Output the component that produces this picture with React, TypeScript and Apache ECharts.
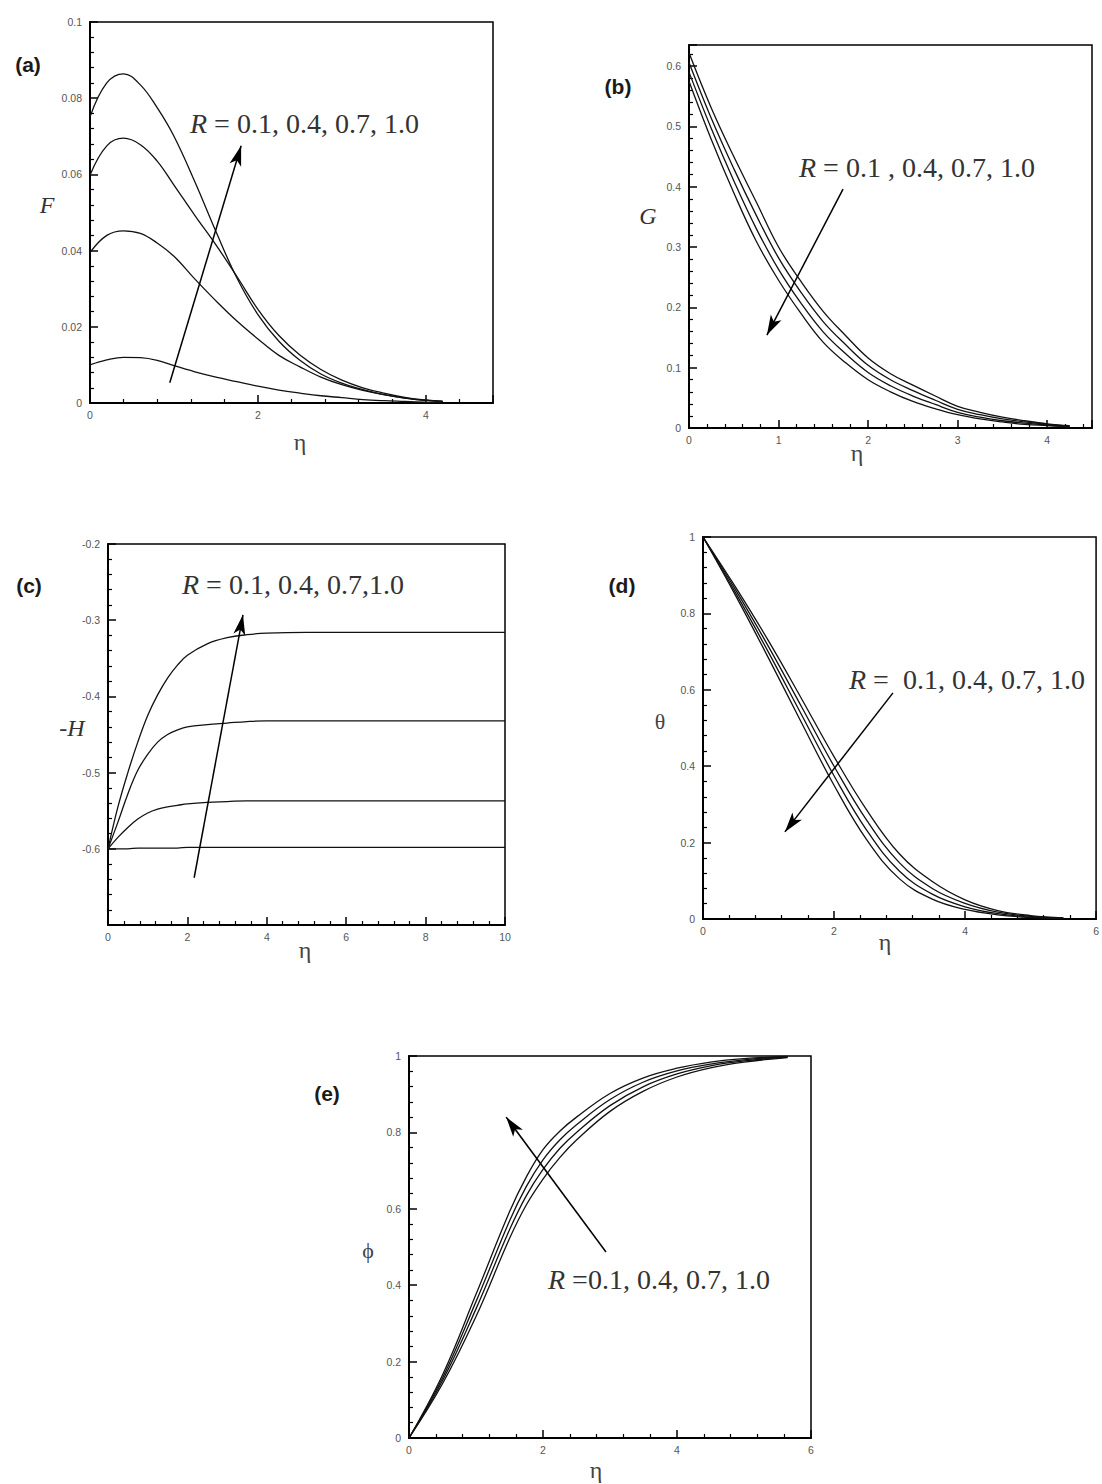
import React, { useEffect, useRef } from "react";
import * as echarts from "echarts";

// ---------- data ----------
const etaA = [0, 0.2, 0.4, 0.6, 0.8, 1.0, 1.25, 1.5, 1.75, 2.0, 2.25, 2.5, 2.75, 3.0, 3.25, 3.5, 3.75, 4.0, 4.2];
const F_R01 = [0.0100, 0.0113, 0.0120, 0.0119, 0.0112, 0.0098, 0.0082, 0.0068, 0.0056, 0.0044, 0.0034, 0.0026, 0.0019, 0.0014, 0.0009, 0.0006, 0.0004, 0.0002, 0.0001];
const F_R04 = [0.0395, 0.0440, 0.0452, 0.0445, 0.0420, 0.0385, 0.0325, 0.0268, 0.0215, 0.0168, 0.0125, 0.0095, 0.0068, 0.0048, 0.0033, 0.0022, 0.0013, 0.0007, 0.0004];
const F_R07 = [0.0598, 0.0675, 0.0695, 0.0678, 0.0635, 0.0572, 0.0492, 0.0415, 0.0332, 0.0246, 0.0177, 0.0126, 0.0088, 0.0060, 0.0040, 0.0026, 0.0015, 0.0008, 0.0004];
const F_R10 = [0.0751, 0.0840, 0.0864, 0.0835, 0.0775, 0.0700, 0.0580, 0.0450, 0.0328, 0.0232, 0.0162, 0.0112, 0.0076, 0.0052, 0.0035, 0.0022, 0.0013, 0.0007, 0.0004];

const etaB = [0, 0.25, 0.5, 0.75, 1.0, 1.25, 1.5, 1.75, 2.0, 2.25, 2.5, 2.75, 3.0, 3.25, 3.5, 3.75, 4.0, 4.25];
const G_R01 = [0.622, 0.530, 0.450, 0.375, 0.300, 0.243, 0.193, 0.153, 0.116, 0.090, 0.071, 0.053, 0.036, 0.026, 0.018, 0.012, 0.007, 0.004];
const G_R04 = [0.606, 0.513, 0.430, 0.353, 0.282, 0.225, 0.176, 0.138, 0.104, 0.080, 0.062, 0.046, 0.031, 0.022, 0.015, 0.010, 0.006, 0.003];
const G_R07 = [0.590, 0.496, 0.410, 0.331, 0.263, 0.207, 0.159, 0.123, 0.092, 0.070, 0.053, 0.039, 0.026, 0.018, 0.012, 0.008, 0.005, 0.0025];
const G_R10 = [0.575, 0.478, 0.390, 0.310, 0.245, 0.190, 0.142, 0.108, 0.080, 0.060, 0.044, 0.032, 0.022, 0.015, 0.010, 0.006, 0.004, 0.002];

const etaC = [0, 0.25, 0.5, 0.75, 1.0, 1.25, 1.5, 1.75, 2.0, 2.5, 3.0, 3.5, 4.0, 5, 6, 7, 8, 9, 10];
const H_R01 = [-0.600, -0.600, -0.600, -0.599, -0.599, -0.599, -0.599, -0.599, -0.598, -0.598, -0.598, -0.598, -0.598, -0.598, -0.598, -0.598, -0.598, -0.598, -0.598];
const H_R04 = [-0.600, -0.585, -0.572, -0.561, -0.553, -0.548, -0.545, -0.543, -0.541, -0.539, -0.538, -0.537, -0.537, -0.537, -0.537, -0.537, -0.537, -0.537, -0.537];
const H_R07 = [-0.600, -0.565, -0.528, -0.497, -0.476, -0.460, -0.450, -0.444, -0.440, -0.437, -0.435, -0.433, -0.432, -0.432, -0.432, -0.432, -0.432, -0.432, -0.432];
const H_R10 = [-0.600, -0.545, -0.500, -0.460, -0.425, -0.398, -0.376, -0.359, -0.346, -0.331, -0.323, -0.319, -0.317, -0.316, -0.316, -0.316, -0.316, -0.316, -0.316];

const etaD = [0, 0.5, 1.0, 1.5, 2.0, 2.5, 3.0, 3.5, 4.0, 4.5, 5.0, 5.5];
const T_R01 = [1.0, 0.868, 0.728, 0.578, 0.425, 0.285, 0.170, 0.098, 0.050, 0.022, 0.009, 0.003];
const T_R04 = [1.0, 0.861, 0.713, 0.557, 0.400, 0.258, 0.147, 0.080, 0.041, 0.018, 0.007, 0.002];
const T_R07 = [1.0, 0.853, 0.698, 0.536, 0.375, 0.232, 0.125, 0.065, 0.032, 0.014, 0.005, 0.002];
const T_R10 = [1.0, 0.846, 0.683, 0.515, 0.350, 0.207, 0.105, 0.052, 0.025, 0.011, 0.004, 0.001];

const etaE = [0, 0.5, 1.0, 1.5, 1.75, 2.0, 2.25, 2.5, 3.0, 3.5, 4.0, 4.5, 5.0, 5.65];
const P_R01 = [0, 0.142, 0.318, 0.522, 0.610, 0.678, 0.734, 0.780, 0.855, 0.908, 0.945, 0.969, 0.984, 0.996];
const P_R04 = [0, 0.150, 0.338, 0.545, 0.634, 0.703, 0.758, 0.800, 0.870, 0.920, 0.953, 0.974, 0.987, 0.997];
const P_R07 = [0, 0.157, 0.357, 0.568, 0.658, 0.728, 0.780, 0.820, 0.886, 0.932, 0.961, 0.979, 0.990, 0.998];
const P_R10 = [0, 0.165, 0.376, 0.592, 0.683, 0.755, 0.803, 0.840, 0.902, 0.943, 0.968, 0.984, 0.993, 0.999];

// arrows in data coordinates [from, to]
const arrowA = [[0.95, 0.0053], [1.80, 0.0675]];
const arrowB = [[1.72, 0.396], [0.87, 0.154]];
const arrowC = [[2.17, -0.638], [3.40, -0.293]];
const arrowD = [[2.90, 0.592], [1.25, 0.228]];
const arrowE = [[2.94, 0.487], [1.45, 0.840]];

const annA = "{i|R} = 0.1, 0.4, 0.7, 1.0";
const annB = "{i|R} = 0.1 , 0.4, 0.7, 1.0";
const annC = "{i|R} = 0.1, 0.4, 0.7,1.0";
const annD = "{i|R} =  0.1, 0.4, 0.7, 1.0";
const annE = "{i|R} =0.1, 0.4, 0.7, 1.0";

// ---------- helpers ----------
const SANS = "Liberation Sans, Arial, sans-serif";
const SERIF = "Liberation Serif, Times New Roman, serif";

function xAxis(gridIndex: number, max: number, interval: number, extra: any = {}) {
  return {
    type: "value",
    gridIndex,
    min: 0,
    max,
    interval,
    axisLine: { show: true, onZero: false, lineStyle: { color: "#000", width: 2 } },
    axisTick: { show: true, inside: true, length: 8, lineStyle: { color: "#000", width: 1.5 } },
    minorTick: { show: true, splitNumber: 5, length: 4, lineStyle: { color: "#000", width: 1.2 } },
    splitLine: { show: false },
    minorSplitLine: { show: false },
    axisLabel: { fontFamily: SANS, fontSize: 10.5, color: "#555", margin: 6, ...(extra.axisLabel || {}) },
  };
}
function yAxis(gridIndex: number, min: number, max: number, interval: number, extra: any = {}) {
  return {
    type: "value",
    gridIndex,
    min,
    max,
    interval,
    axisLine: { show: true, onZero: false, lineStyle: { color: "#000", width: 2 } },
    axisTick: { show: true, inside: true, length: 8, lineStyle: { color: "#000", width: 1.5 } },
    minorTick: { show: true, splitNumber: 5, length: 4, lineStyle: { color: "#000", width: 1.2 } },
    splitLine: { show: false },
    minorSplitLine: { show: false },
    axisLabel: { fontFamily: SANS, fontSize: 10.5, color: "#555", margin: 8, ...(extra.axisLabel || {}) },
  };
}
function line(idx: number, xs: number[], ys: number[], arrow?: number[][]) {
  const s: any = {
    type: "line",
    xAxisIndex: idx,
    yAxisIndex: idx,
    data: xs.map((x, i) => [x, ys[i]]),
    showSymbol: false,
    smooth: 0.4,
    silent: true,
    lineStyle: { color: "#111", width: 1.3 },
  };
  if (arrow) {
    s.markLine = {
      silent: true,
      symbol: ["none", "arrow"],
      symbolSize: [9, 20],
      label: { show: false },
      lineStyle: { color: "#000", width: 1.5, type: "solid" },
      data: [[{ coord: arrow[0] }, { coord: arrow[1] }]],
    };
  }
  return s;
}
function txt(x: number, y: number, text: string, font: any = {}) {
  return {
    type: "text",
    x,
    y,
    silent: true,
    style: {
      text,
      fill: font.fill || "#222",
      fontFamily: font.fontFamily || SERIF,
      fontSize: font.fontSize || 22,
      fontStyle: font.fontStyle || "normal",
      fontWeight: font.fontWeight || "normal",
      align: font.align || "center",
      verticalAlign: "middle",
      rich: font.rich,
    },
  };
}
const annRich = { i: { fontStyle: "italic", fontFamily: SERIF, fontSize: 28, fill: "#333" } };
const ann = (x: number, y: number, t: string) =>
  txt(x, y, t, { align: "left", fontSize: 28, fill: "#333", rich: annRich });
const panelLabel = (x: number, y: number, t: string) =>
  txt(x, y, t, { fontFamily: SANS, fontWeight: "bold", fontSize: 21, fill: "#1a1a1a" });

export default function App() {
  const ref = useRef<HTMLDivElement>(null);
  useEffect(() => {
    document.body.style.margin = "0";
    const chart = echarts.init(ref.current!, null, { renderer: "svg" });
    const option: any = {
      animation: false,
      backgroundColor: "#fff",
      grid: [
        { left: 90, top: 22, width: 403, height: 381, show: true, borderColor: "#000", borderWidth: 1.5 },
        { left: 689, top: 45, width: 403, height: 383, show: true, borderColor: "#000", borderWidth: 1.5 },
        { left: 108, top: 544, width: 397, height: 381, show: true, borderColor: "#000", borderWidth: 1.5 },
        { left: 703, top: 537, width: 402, height: 382, show: true, borderColor: "#000", borderWidth: 1.5 },
        { left: 409, top: 1056, width: 402, height: 382, show: true, borderColor: "#000", borderWidth: 1.5 },
      ],
      xAxis: [
        xAxis(0, 4.8, 2, { axisLabel: { showMaxLabel: false } }),
        xAxis(1, 4.5, 1, { axisLabel: { showMaxLabel: false } }),
        xAxis(2, 10, 2),
        xAxis(3, 6, 2),
        xAxis(4, 6, 2),
      ],
      yAxis: [
        yAxis(0, 0, 0.1, 0.02),
        yAxis(1, 0, 0.635, 0.1, { axisLabel: { showMaxLabel: false } }),
        yAxis(2, -0.7, -0.2, 0.1, { axisLabel: { showMinLabel: false } }),
        yAxis(3, 0, 1, 0.2),
        yAxis(4, 0, 1, 0.2),
      ],
      series: [
        line(0, etaA, F_R01, arrowA),
        line(0, etaA, F_R04),
        line(0, etaA, F_R07),
        line(0, etaA, F_R10),
        line(1, etaB, G_R01, arrowB),
        line(1, etaB, G_R04),
        line(1, etaB, G_R07),
        line(1, etaB, G_R10),
        line(2, etaC, H_R01, arrowC),
        line(2, etaC, H_R04),
        line(2, etaC, H_R07),
        line(2, etaC, H_R10),
        line(3, etaD, T_R01, arrowD),
        line(3, etaD, T_R04),
        line(3, etaD, T_R07),
        line(3, etaD, T_R10),
        line(4, etaE, P_R01, arrowE),
        line(4, etaE, P_R04),
        line(4, etaE, P_R07),
        line(4, etaE, P_R10),
      ],
      graphic: [
        panelLabel(28, 64, "(a)"),
        panelLabel(618, 86, "(b)"),
        panelLabel(29, 585, "(c)"),
        panelLabel(622, 585, "(d)"),
        panelLabel(327, 1093, "(e)"),
        ann(190, 123, annA),
        ann(799, 167, annB),
        ann(182, 584, annC),
        ann(849, 679, annD),
        ann(548, 1279, annE),
        txt(47, 205, "F", { fontStyle: "italic", fontSize: 24, fill: "#333" }),
        txt(648, 216, "G", { fontStyle: "italic", fontSize: 24, fill: "#333" }),
        txt(72, 728, "-H", { fontStyle: "italic", fontSize: 24, fill: "#333" }),
        txt(660, 721, "θ", { fontSize: 22, fill: "#444" }),
        txt(368, 1250, "ϕ", { fontSize: 22, fill: "#444" }),
        txt(300, 442, "η", { fontSize: 24, fill: "#444" }),
        txt(857, 453, "η", { fontSize: 24, fill: "#444" }),
        txt(305, 950, "η", { fontSize: 24, fill: "#444" }),
        txt(885, 942, "η", { fontSize: 24, fill: "#444" }),
        txt(596, 1470, "η", { fontSize: 24, fill: "#444" }),
      ],
    };
    chart.setOption(option);
    return () => chart.dispose();
  }, []);
  return (
    <div
      ref={ref}
      style={{ position: "absolute", left: 0, top: 0, width: 1102, height: 1484, overflow: "hidden" }}
    />
  );
}
